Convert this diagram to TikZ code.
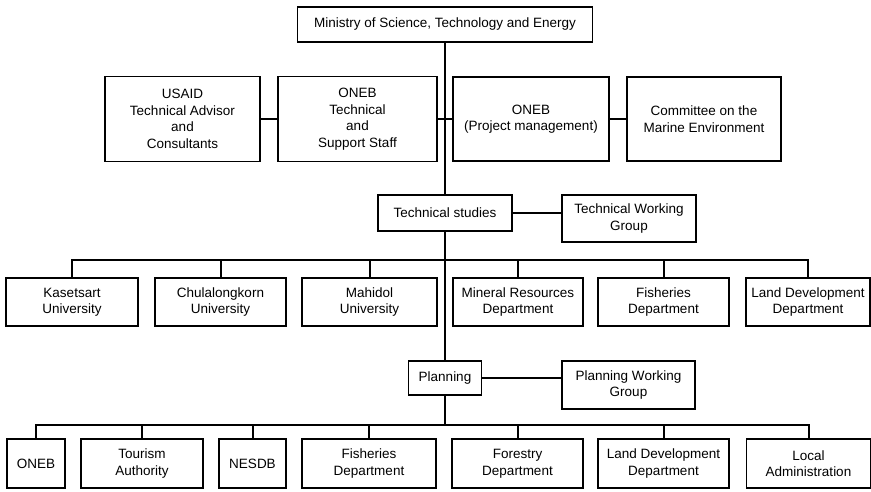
\documentclass[tikz,border=0pt]{standalone}
\usepackage{fontspec}
\setmainfont{Liberation Sans}
\usepackage{tikz}
\usetikzlibrary{calc}
\tikzset{
	box/.style={draw, line width=1.1pt, align=center, inner sep=0pt, font=\fontsize{13.5}{16.5}\selectfont},
	link/.style={line width=2pt}
}

\begin{document}
\begin{tikzpicture}[x=1pt, y=-1pt]
		%%%%% START %%%%%
		\useasboundingbox (0, 0) rectangle (871, 491);
		
		\node[box, minimum width=295, minimum height=35] (min) at (445, 24.5) {Ministry of Science, Technology and Energy};
		
		\node[box, minimum width=155, minimum height=85] (usaid) at (182.5, 119) {USAID\\Technical Advisor\\and\\Consultants};
		\node[box, minimum width=159, minimum height=85] (onebt) at (357.5, 119) {ONEB\\Technical\\and\\Support Staff};
		\node[box, minimum width=156, minimum height=84] (onebpm) at (531, 119) {ONEB\\(Project management)};
		\node[box, minimum width=154, minimum height=84] (cme) at (704, 119) {Committee on the\\Marine Environment};
		
		\node[box, minimum width=134, minimum height=36] (tstud) at (445, 213) {Technical studies};
		\node[box, minimum width=134, minimum height=47] (twg) at (629, 218.5) {Technical Working\\Group};
		
		\node[box, minimum width=132, minimum height=48] (kas) at (72, 302) {Kasetsart\\University};
		\node[box, minimum width=131, minimum height=48] (chu) at (220.5, 302) {Chulalongkorn\\University};
		\node[box, minimum width=135, minimum height=48] (mah) at (369.5, 302) {Mahidol\\University};
		\node[box, minimum width=130, minimum height=48] (mrd) at (518, 302) {Mineral Resources\\Department};
		\node[box, minimum width=131, minimum height=48] (fdA) at (663.5, 302) {Fisheries\\Department};
		\node[box, minimum width=124, minimum height=48] (lddA) at (808, 302) {Land Development\\Department};
		
		\node[box, minimum width=73, minimum height=34] (plan) at (445, 378) {Planning};
		\node[box, minimum width=133, minimum height=48] (pwg) at (628.5, 385) {Planning Working\\Group};
		
		\node[box, minimum width=58, minimum height=49] (oneb) at (36, 463.5) {ONEB};
		\node[box, minimum width=122, minimum height=49] (tour) at (142, 463.5) {Tourism\\Authority};
		\node[box, minimum width=67, minimum height=49] (nesdb) at (252.5, 463.5) {NESDB};
		\node[box, minimum width=134, minimum height=49] (fdB) at (369, 463.5) {Fisheries\\Department};
		\node[box, minimum width=131, minimum height=49] (forest) at (517.5, 463.5) {Forestry\\Department};
		\node[box, minimum width=131, minimum height=49] (lddB) at (663.5, 463.5) {Land Development\\Department};
		\node[box, minimum width=124, minimum height=49] (local) at (808.5, 463.5) {Local\\Administration};
		
		\coordinate (busA) at (445, 260);
		\coordinate (busB) at (445, 425);
		
		% trunk
		\draw[link] (min.south) -- (tstud.north);
		\draw[link] (tstud.south) -- (plan.north);
		\draw[link] (plan.south) -- (busB);
		
		\draw[link] (usaid.east) -- (onebt.west);
		\draw[link] (onebt.east) -- (onebpm.west);
		\draw[link] (onebpm.east) -- (cme.west);
		\draw[link] (tstud.east) -- (tstud.east -| twg.west);
		\draw[link] (plan.east) -- (plan.east -| pwg.west);
		
		\draw[link] (kas.north) |- (busA) -| (lddA.north);
		\foreach \n in {chu, mah, mrd, fdA}
			\draw[link] (\n.north) -- (\n.north |- busA);
		
		\draw[link] (oneb.north) |- (busB) -| (local.north);
		\foreach \n in {tour, nesdb, fdB, forest, lddB}
			\draw[link] (\n.north) -- (\n.north |- busB);
		
		%%%%% END %%%%%
	\end{tikzpicture}
\end{document}
